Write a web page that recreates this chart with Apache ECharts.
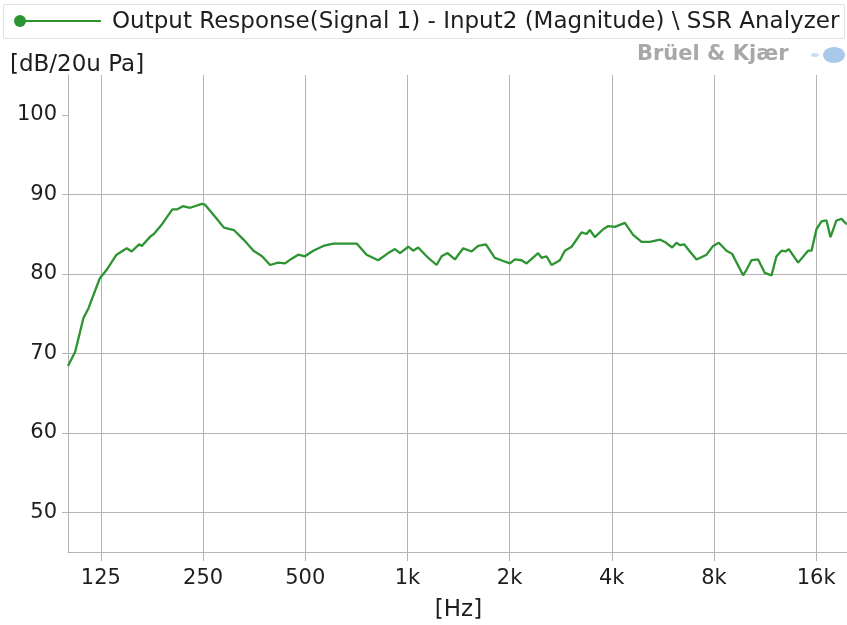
<!DOCTYPE html>
<html>
<head>
<meta charset="utf-8">
<script src="https://cdn.jsdelivr.net/npm/echarts@6/dist/echarts.min.js"></script>
<style>
html,body{margin:0;padding:0;background:#fff;}
#chart{width:847px;height:625px;}
</style>
</head>
<body>
<div id="chart"></div>
<script>
// ---- data ----
var freqHz = [100,105,111,115,124,130,139,149,154,162,
  165,175,179,189,203,210,218,229,248,253,
  272,288,308,329,352,373,394,416,436,456,
  477,499,528,565,605,709,758,820,878,919,
  951,1006,1040,1076,1139,1219,1261,1313,1380,1460,
  1546,1616,1703,1810,1915,2004,2073,2170,2244,2428,
  2485,2570,2659,2813,2910,3046,3259,3372,3448,3567,
  3774,3904,4085,4371,4625,4896,5179,5542,5734,6025,
  6207,6348,6536,6793,7110,7609,7957,8271,8714,9051,
  9752,9979,10320,10796,11297,11822,12230,12652,13000,13294,
  14160,15155,15510,16040,16597,17170,17640,18370,19010,19710];
var levelDb = [68.4,70.2,74.4,75.7,79.4,80.5,82.4,83.2,82.8,83.7,
  83.5,84.7,85.0,86.2,88.1,88.1,88.5,88.3,88.8,88.7,
  87.1,85.8,85.5,84.3,82.9,82.2,81.1,81.4,81.3,81.9,
  82.4,82.2,82.9,83.5,83.8,83.8,82.4,81.7,82.6,83.1,
  82.6,83.4,82.9,83.3,82.2,81.1,82.2,82.6,81.8,83.2,
  82.8,83.5,83.7,82.0,81.6,81.3,81.8,81.7,81.3,82.6,
  82.0,82.2,81.1,81.7,82.9,83.4,85.2,85.0,85.5,84.6,
  85.6,86.0,85.9,86.4,84.9,84.0,84.0,84.3,84.0,83.3,
  83.9,83.6,83.7,82.8,81.8,82.4,83.5,83.9,82.9,82.5,
  79.8,80.5,81.7,81.8,80.1,79.8,82.2,82.9,82.8,83.1,
  81.4,82.9,82.9,85.6,86.6,86.7,84.6,86.7,86.9,86.2];
var xTickValues = [125,250,500,1000,2000,4000,8000,16000];
var xTickLabels = ['125','250','500','1k','2k','4k','8k','16k'];
var yTickValues = [50,60,70,80,90,100];
var seriesName = 'Output Response(Signal 1) - Input2 (Magnitude) \\ SSR Analyzer';
var yUnit = '[dB/20u Pa]';
var xUnit = '[Hz]';
var brand = 'Brüel & Kjær';

// ---- chart ----
var FONT = 'DejaVu Sans';
var GRID = '#b4b4b4';
var GREEN = '#2c9431';
var TXT = '#1e1e1e';

var pts = freqHz.map(function(f,i){ return [f, levelDb[i]]; });

var chart = echarts.init(document.getElementById('chart'), null, {renderer:'canvas'});
chart.setOption({
  animation: false,
  backgroundColor: '#ffffff',
  grid: {left: 68, right: -2, top: 75, bottom: 73, containLabel: false, outerBoundsMode: 'none'},
  title: {
    text: yUnit, left: 5, top: 49,
    textStyle: {fontFamily: FONT, fontSize: 23, fontWeight: 'normal', color: TXT}
  },
  xAxis: {
    type: 'log', logBase: 10, min: 100, max: 20000,
    name: xUnit, nameLocation: 'middle', nameGap: 47,
    nameTextStyle: {fontFamily: FONT, fontSize: 23, color: TXT},
    axisLine: {show: true, lineStyle: {color: GRID, width: 1}},
    axisTick: {show: true, length: 9, customValues: xTickValues, lineStyle: {color: GRID}},
    axisLabel: {
      customValues: xTickValues, margin: 16,
      fontFamily: FONT, fontSize: 21, color: TXT,
      formatter: function(v){ var i = xTickValues.indexOf(Math.round(v)); return i >= 0 ? xTickLabels[i] : ''; }
    },
    splitLine: {show: true, lineStyle: {color: GRID, width: 1}}
  },
  yAxis: {
    type: 'value', min: 45, max: 105,
    axisLine: {show: true, lineStyle: {color: GRID, width: 1}},
    axisTick: {show: true, length: 6, customValues: yTickValues, lineStyle: {color: GRID}},
    axisLabel: {customValues: yTickValues, margin: 11, fontFamily: FONT, fontSize: 21, color: TXT},
    splitLine: {show: true, showMaxLine: false, lineStyle: {color: GRID, width: 1}}
  },
  series: [{
    name: seriesName, type: 'line', data: pts,
    showSymbol: false, smooth: false,
    lineStyle: {color: GREEN, width: 2.3},
    itemStyle: {color: GREEN}
  }],
  graphic: [
    {type: 'rect', shape: {x: 3.5, y: 4.5, width: 841, height: 34}, style: {fill: 'none', stroke: '#e2e2e2', lineWidth: 1}, silent: true},
    {type: 'line', shape: {x1: 20, y1: 21, x2: 101, y2: 21}, style: {stroke: GREEN, lineWidth: 2}, silent: true},
    {type: 'circle', shape: {cx: 20, cy: 21, r: 6}, style: {fill: GREEN}, silent: true},
    {type: 'text', left: 112, top: 11, style: {text: seriesName, font: '23px "DejaVu Sans"', fill: TXT}, silent: true},
    {type: 'text', left: 637, top: 44, style: {text: brand, font: 'bold 21px "DejaVu Sans"', fill: '#a8a8a8'}, silent: true},
    {type: 'ellipse', shape: {cx: 834, cy: 55, rx: 11, ry: 8}, style: {fill: '#a9c9ea'}, silent: true},
    {type: 'ellipse', shape: {cx: 815, cy: 55, rx: 4, ry: 2}, style: {fill: '#c7dcf1'}, silent: true}
  ]
});
</script>
</body>
</html>
